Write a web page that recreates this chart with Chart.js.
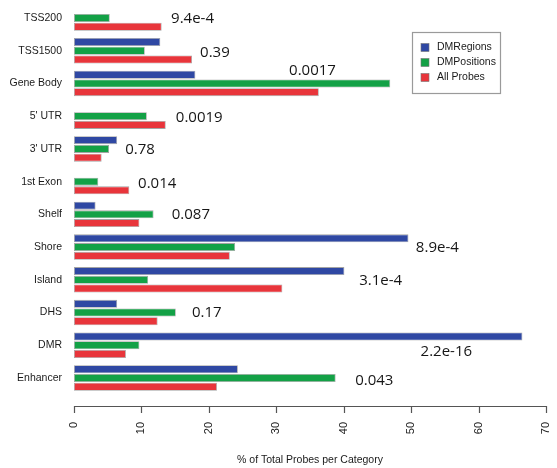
<!DOCTYPE html>
<html>
<head>
<meta charset="UTF-8">
<title>Probe categories</title>
<script src="https://cdn.jsdelivr.net/npm/chart.js"></script>
<style>
  html, body { margin: 0; padding: 0; background: #fff; }
  #wrap { width: 557px; height: 468px; }
</style>
</head>
<body>
<div id="wrap"><canvas id="bar" width="557" height="468"></canvas></div>

<script>
// categories, top to bottom
const categories = ["TSS200", "TSS1500", "Gene Body", "5' UTR", "3' UTR", "1st Exon",
  "Shelf", "Shore", "Island", "DHS", "DMR", "Enhancer"];

// % of total probes per category
const dmRegions   = [0, 12.8, 18.0, 0, 6.4, 0, 3.2, 49.6, 40.1, 6.4, 66.5, 24.3];
const dmPositions = [5.3, 10.5, 46.9, 10.8, 5.2, 3.6, 11.8, 23.9, 11.0, 15.1, 9.7, 38.8];
const allProbes   = [13.0, 17.5, 36.3, 13.6, 4.1, 8.2, 9.7, 23.1, 30.9, 12.4, 7.7, 21.2];

// p-values shown next to each group
const pValues = ["9.4e-4", "0.39", "0.0017", "0.0019", "0.78", "0.014",
  "0.087", "8.9e-4", "3.1e-4", "0.17", "2.2e-16", "0.043"];

const xTicks = [0, 10, 20, 30, 40, 50, 60, 70];

// where the p-value text goes: x in axis units, y shift in fractions of a row
const pLabelX  = [14.4, 18.7, 31.9, 15.1, 7.6, 9.5, 14.5, 50.7, 42.3, 17.5, 51.4, 41.7];
const pLabelDy = [0.03, 0.07, -0.39, 0.06, 0.04, 0.05, 0.02, 0.03, 0.04, 0.02, 0.2, 0.07];

const colors = ["#2f48a3", "#13a146", "#e8353b"];
const seriesNames = ["DMRegions", "DMPositions", "All Probes"];

const axisFont = "Liberation Sans, Arial, sans-serif";

// R-style bottom axis: a line from first to last tick, ticks hanging down
const rAxis = {
  id: "rAxis",
  afterDraw(chart) {
    const { ctx, scales: { x } } = chart;
    const y = 406;
    ctx.save();
    ctx.strokeStyle = "#555";
    ctx.lineWidth = 1.2;
    ctx.beginPath();
    ctx.moveTo(x.getPixelForValue(xTicks[0]), y + 0.5);
    ctx.lineTo(x.getPixelForValue(xTicks[xTicks.length - 1]), y + 0.5);
    xTicks.forEach(t => {
      const px = Math.round(x.getPixelForValue(t)) + 0.5;
      ctx.moveTo(px, y);
      ctx.lineTo(px, y + 7);
    });
    ctx.stroke();
    ctx.restore();
  }
};

// p-value annotations
const pLabels = {
  id: "pLabels",
  afterDatasetsDraw(chart) {
    const { ctx, scales: { x, y } } = chart;
    const band = y.getPixelForValue(1) - y.getPixelForValue(0);
    ctx.save();
    ctx.font = "15px 'Open Sans', sans-serif";
    ctx.fillStyle = "#161616";
    ctx.textAlign = "left";
    ctx.textBaseline = "middle";
    pValues.forEach((p, i) => {
      ctx.fillText(p, x.getPixelForValue(pLabelX[i]), y.getPixelForValue(i) + pLabelDy[i] * band);
    });
    ctx.restore();
  }
};

// boxed legend in the upper right
const boxLegend = {
  id: "boxLegend",
  afterDraw(chart) {
    const { ctx } = chart;
    const bx = 412, by = 32, bw = 88, bh = 61;
    ctx.save();
    ctx.fillStyle = "#fff";
    ctx.fillRect(bx, by, bw, bh);
    ctx.strokeStyle = "#9a9a9a";
    ctx.lineWidth = 1.2;
    ctx.strokeRect(bx + 0.5, by + 0.5, bw, bh);
    ctx.font = "10.5px " + axisFont;
    ctx.textBaseline = "middle";
    chart.data.datasets.forEach((ds, i) => {
      const cy = by + 15.5 + i * 15;
      ctx.fillStyle = ds.backgroundColor;
      ctx.fillRect(bx + 9, cy - 4, 8, 8);
      ctx.strokeStyle = "#777";
      ctx.lineWidth = 0.6;
      ctx.strokeRect(bx + 9, cy - 4, 8, 8);
      ctx.fillStyle = "#1a1a1a";
      ctx.fillText(ds.label, bx + 25, cy);
    });
    ctx.restore();
  }
};

new Chart(document.getElementById("bar"), {
  type: "bar",
  data: {
    labels: categories,
    datasets: [dmRegions, dmPositions, allProbes].map((vals, i) => ({
      label: seriesNames[i],
      data: vals,
      backgroundColor: colors[i],
      borderColor: "rgba(90,90,90,0.55)",
      borderWidth: 0.8,
      borderSkipped: false,
      categoryPercentage: 0.8,
      barPercentage: 0.917
    }))
  },
  options: {
    indexAxis: "y",
    responsive: false,
    animation: false,
    layout: { padding: { top: 1.6, right: 11, bottom: 0, left: 0 } },
    plugins: {
      legend: { display: false },
      tooltip: { enabled: false }
    },
    scales: {
      x: {
        min: 0,
        max: 70,
        afterBuildTicks(scale) {
          scale.ticks = xTicks.map(v => ({ value: v }));
        },
        afterFit(scale) {
          scale.height = 73.6;
          scale.paddingLeft = 0;
          scale.paddingRight = 0;
        },
        grid: { display: false, drawTicks: false },
        border: { display: false },
        ticks: {
          minRotation: 90,
          maxRotation: 90,
          padding: 27.5,
          color: "#222",
          font: { family: axisFont, size: 11 }
        },
        title: {
          display: true,
          text: "% of Total Probes per Category",
          color: "#1a1a1a",
          font: { family: axisFont, size: 10.5 },
          padding: { top: 0, bottom: 2 }
        }
      },
      y: {
        afterFit(scale) {
          scale.width = 74;
          scale.paddingTop = 0;
          scale.paddingBottom = 0;
        },
        grid: { display: false, drawTicks: false },
        border: { display: false },
        ticks: {
          padding: 12,
          color: "#1a1a1a",
          font: { family: axisFont, size: 10.5 }
        }
      }
    }
  },
  plugins: [rAxis, pLabels, boxLegend]
});
</script>
</body>
</html>
